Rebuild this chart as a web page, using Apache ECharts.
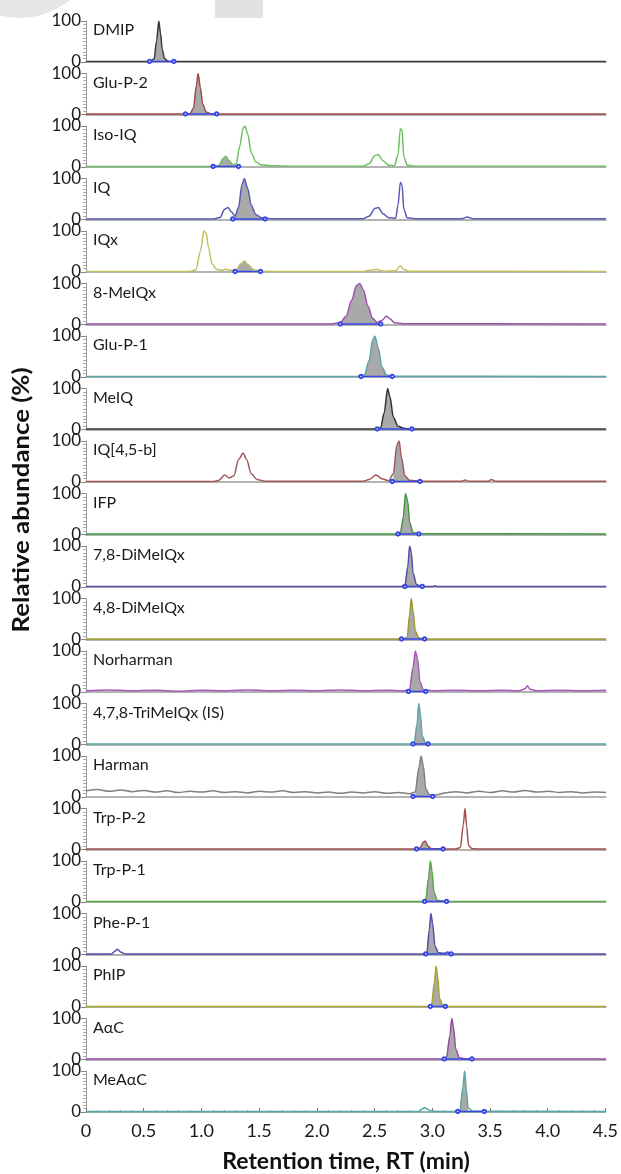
<!DOCTYPE html>
<html>
<head>
<meta charset="utf-8">
<script src="https://cdn.jsdelivr.net/npm/echarts@6/dist/echarts.min.js"></script>
<style>
html,body{margin:0;padding:0;background:#fff;}
#c{width:621px;height:1174px;}
</style>
</head>
<body>
<div id="c"></div>
<script>
// ---------- DATA ----------
const compounds = ["DMIP","Glu-P-2","Iso-IQ","IQ","IQx","8-MeIQx","Glu-P-1","MeIQ","IQ[4,5-b]","IFP","7,8-DiMeIQx","4,8-DiMeIQx","Norharman","4,7,8-TriMeIQx (IS)","Harman","Trp-P-2","Trp-P-1","Phe-P-1","PhIP","A\u03b1C","MeA\u03b1C"];
const xTicks = [0,0.5,1.0,1.5,2.0,2.5,3.0,3.5,4.0,4.5];

const tDMIP = [[0,1],[0.5,1],[0.56,1.5],[0.59,8],[0.61,50],[0.63,100],[0.645,70],[0.66,30],[0.68,8],[0.71,2],[0.75,1],[4.5,1]];
const tGluP2 = [[0,1],[0.85,1],[0.9,2],[0.93,15],[0.955,70],[0.97,100],[0.99,65],[1.01,25],[1.04,6],[1.08,2],[1.15,1],[4.5,1]];
const tIsoIQ = [[0,1],[1.1,1],[1.15,4],[1.19,22],[1.21,26],[1.24,15],[1.27,6],[1.3,8],[1.33,50],[1.36,95],[1.375,100],[1.4,80],[1.43,35],[1.47,12],[1.52,5],[1.6,3],[1.8,2],[2.4,2],[2.45,8],[2.5,28],[2.53,30],[2.57,15],[2.62,4],[2.67,3],[2.7,30],[2.72,93],[2.735,90],[2.75,25],[2.78,4],[2.85,2],[3.5,2],[4.0,2],[4.5,2]];
const tIQ = [[0,1],[1.1,1],[1.16,5],[1.2,25],[1.23,29],[1.26,18],[1.29,8],[1.32,30],[1.35,85],[1.37,100],[1.4,75],[1.43,35],[1.47,12],[1.52,4],[1.6,2],[2.4,2],[2.45,8],[2.5,27],[2.53,29],[2.57,14],[2.62,4],[2.68,3],[2.7,35],[2.72,90],[2.735,85],[2.75,25],[2.78,4],[2.85,2],[3.25,2],[3.3,6],[3.35,2],[4.5,2]];
const tIQx = [[0,1],[0.9,1],[0.95,5],[0.99,50],[1.02,100],[1.04,95],[1.06,60],[1.09,20],[1.13,6],[1.18,4],[1.21,7],[1.25,4],[1.3,5],[1.34,20],[1.37,27],[1.4,18],[1.45,6],[1.52,2],[1.7,1],[2.4,1],[2.47,5],[2.52,6],[2.58,2],[2.68,3],[2.72,15],[2.75,6],[2.8,2],[4.5,1]];
const tMeIQx8 = [[0,1],[2.1,1],[2.2,4],[2.25,20],[2.3,60],[2.34,95],[2.37,100],[2.4,85],[2.44,45],[2.48,15],[2.52,5],[2.56,10],[2.6,20],[2.63,14],[2.67,4],[2.75,2],[4.5,1]];
const tGluP1 = [[0,1],[2.35,1],[2.41,5],[2.45,40],[2.48,90],[2.5,100],[2.53,70],[2.56,25],[2.6,5],[2.65,2],[4.5,1]];
const tMeIQ = [[0,1],[2.5,1],[2.55,4],[2.58,40],[2.61,100],[2.63,80],[2.66,30],[2.7,8],[2.75,3],[2.8,1],[4.5,1]];
const tIQ45b = [[0,1],[1.1,1],[1.15,4],[1.2,17],[1.24,10],[1.28,15],[1.32,55],[1.36,70],[1.39,55],[1.43,20],[1.48,6],[1.55,2],[2.4,2],[2.45,6],[2.51,17],[2.56,8],[2.62,3],[2.66,20],[2.69,90],[2.71,100],[2.73,60],[2.76,15],[2.8,4],[2.9,2],[3.25,2],[3.28,5],[3.31,2],[3.48,2],[3.51,6],[3.54,2],[4.5,2]];
const tIFP = [[0,1],[2.68,1],[2.72,3],[2.745,40],[2.765,100],[2.785,80],[2.8,30],[2.83,5],[2.88,2],[4.5,1]];
const tDiMeIQx78 = [[0,1],[2.72,1],[2.76,4],[2.785,50],[2.8,100],[2.815,85],[2.83,35],[2.86,6],[2.9,2],[3.0,1],[3.02,3],[3.04,1],[4.5,1]];
const tDiMeIQx48 = [[0,1],[2.74,1],[2.78,5],[2.8,60],[2.815,100],[2.83,70],[2.85,20],[2.88,4],[2.92,1],[4.5,1]];
const tNorharman = [[0,3],[0.2,5],[0.4,3],[0.6,4],[0.8,2],[1.0,4],[1.2,3],[1.4,5],[1.6,3],[1.8,4],[2.0,3],[2.2,5],[2.4,3],[2.6,4],[2.75,3],[2.8,6],[2.83,60],[2.85,100],[2.87,80],[2.89,25],[2.92,5],[3.0,3],[3.2,4],[3.4,3],[3.6,4],[3.75,3],[3.8,8],[3.82,15],[3.84,7],[3.9,3],[4.1,4],[4.3,3],[4.5,4]];
const tTriMeIQx = [[0,1],[2.8,1],[2.84,3],[2.865,50],[2.88,100],[2.895,70],[2.91,20],[2.94,3],[3.0,1],[4.5,1]];
const tHarman = [[0,15],[0.1,18],[0.2,14],[0.3,17],[0.4,13],[0.5,16],[0.6,12],[0.7,15],[0.8,11],[0.9,14],[1.0,12],[1.1,15],[1.2,11],[1.3,13],[1.4,10],[1.5,14],[1.6,12],[1.7,15],[1.8,11],[1.9,13],[2.0,10],[2.1,12],[2.2,9],[2.3,12],[2.4,10],[2.5,13],[2.6,9],[2.7,11],[2.8,8],[2.85,12],[2.88,70],[2.9,100],[2.92,75],[2.94,20],[2.97,6],[3.0,4],[3.05,6],[3.1,10],[3.2,13],[3.3,10],[3.4,14],[3.5,11],[3.6,15],[3.7,12],[3.8,16],[3.9,12],[4.0,14],[4.1,11],[4.2,13],[4.3,10],[4.4,12],[4.5,11]];
const tTrpP2 = [[0,1],[2.85,1],[2.89,4],[2.92,18],[2.935,21],[2.96,8],[2.99,2],[3.2,1],[3.24,5],[3.265,60],[3.28,100],[3.295,55],[3.31,10],[3.34,2],[3.5,1],[4.5,1]];
const tTrpP1 = [[0,1],[2.9,1],[2.94,4],[2.965,60],[2.98,100],[2.995,75],[3.01,25],[3.04,4],[3.1,2],[3.15,1],[4.5,1]];
const tPheP1 = [[0,1],[0.22,1],[0.25,8],[0.27,13],[0.3,6],[0.34,1],[2.9,1],[2.95,4],[2.97,60],[2.985,100],[3.0,75],[3.02,20],[3.05,4],[3.1,3],[3.13,6],[3.16,2],[3.25,1],[4.5,1]];
const tPhIP = [[0,1],[2.95,1],[2.99,4],[3.015,60],[3.03,100],[3.045,70],[3.06,20],[3.09,3],[3.15,1],[4.5,1]];
const tAaC = [[0,1],[3.08,1],[3.12,5],[3.15,60],[3.165,100],[3.18,80],[3.2,25],[3.23,4],[3.3,1],[4.5,1]];
const tMeAaC = [[0,1],[2.88,1],[2.91,7],[2.935,11],[2.96,6],[3.0,2],[3.2,1],[3.24,5],[3.265,60],[3.28,100],[3.295,55],[3.31,10],[3.35,2],[4.5,1]];

const traces = [tDMIP,tGluP2,tIsoIQ,tIQ,tIQx,tMeIQx8,tGluP1,tMeIQ,tIQ45b,tIFP,tDiMeIQx78,tDiMeIQx48,tNorharman,tTriMeIQx,tHarman,tTrpP2,tTrpP1,tPheP1,tPhIP,tAaC,tMeAaC];

// integrated (shaded) peak range for each panel, min
const fillRanges = [[0.56,0.72],[0.88,1.12],[1.12,1.3],[1.28,1.55],[1.29,1.51],[2.18,2.54],[2.4,2.63],[2.52,2.8],[2.65,2.85],[2.7,2.86],[2.75,2.9],[2.74,2.92],[2.79,2.94],[2.83,2.95],[2.85,2.98],[2.87,3.0],[2.93,3.06],[2.94,3.07],[2.98,3.1],[3.11,3.26],[3.23,3.34]];
// integration baseline markers, min
const integRanges = [[0.55,0.76],[0.86,1.13],[1.1,1.32],[1.27,1.55],[1.29,1.51],[2.2,2.55],[2.38,2.65],[2.52,2.82],[2.65,2.89],[2.7,2.88],[2.76,2.91],[2.73,2.93],[2.79,2.94],[2.83,2.96],[2.83,3.0],[2.86,3.09],[2.93,3.12],[2.94,3.16],[2.98,3.11],[3.1,3.34],[3.22,3.45]];

// ---------- STYLE ----------
const colors = ["#3a3a3a","#a04a4a","#6cc060","#5a5ab8","#c0c060","#a050b0","#5aa5a5","#333333","#a05858","#3f9a3f","#5050a8","#9a9a30","#a858b8","#58a8a8","#808080","#a05050","#55aa44","#5050a8","#a8a828","#9a48a8","#5aa5a5"];
const FONT = "Lato";
const LEFT = 86, RIGHT = 15, TOP0 = 21, PITCH = 52.5, H = 41;
const N = compounds.length;

const grids = [], xAxes = [], yAxes = [], series = [], graphics = [];
for (let i = 0; i < N; i++) {
  const top = TOP0 + i * PITCH;
  const last = i === N - 1;
  grids.push({left: LEFT, right: RIGHT, top: top, height: H});
  xAxes.push({
    type: 'value', gridIndex: i, min: 0, max: 4.5, interval: 0.5,
    axisLine: {show: true, onZero: false, lineStyle: {color: last ? '#6a9a9a' : '#9a9a9a', width: 1.5}},
    axisTick: {show: last, inside: true, length: 4, lineStyle: {color: '#777'}},
    minorTick: {show: last, splitNumber: 5, length: 2, lineStyle: {color: '#999'}},
    axisLabel: {show: last, fontFamily: FONT, fontSize: 18, color: '#1a1a1a', margin: 10,
      formatter: v => { const t = xTicks.find(k => Math.abs(k - v) < 1e-6); return t === 0 ? '0' : t.toFixed(1); }},
    splitLine: {show: false}
  });
  yAxes.push({
    type: 'value', gridIndex: i, min: 0, max: 100, interval: 100,
    axisLine: {show: true, lineStyle: {color: '#9a9a9a', width: 1}},
    axisTick: {show: true, length: 5, lineStyle: {color: '#888'}},
    minorTick: {show: true, splitNumber: 12, length: 3, lineStyle: {color: '#aaa'}},
    axisLabel: {fontFamily: FONT, fontSize: 17, color: '#1a1a1a', margin: 5},
    splitLine: {show: false}
  });
  const fr = fillRanges[i];
  series.push({
    type: 'line', xAxisIndex: i, yAxisIndex: i, z: 1,
    data: traces[i].filter(p => p[0] >= fr[0] && p[0] <= fr[1]),
    showSymbol: false, smooth: 0.3, smoothMonotone: 'x',
    lineStyle: {width: 0}, areaStyle: {color: '#a9a9a9', opacity: 1}, silent: true
  });
  series.push({
    type: 'line', xAxisIndex: i, yAxisIndex: i, z: 2,
    data: traces[i], showSymbol: false, smooth: 0.3, smoothMonotone: 'x',
    lineStyle: {color: colors[i], width: 1.5}, silent: true
  });
  const ir = integRanges[i];
  series.push({
    type: 'line', xAxisIndex: i, yAxisIndex: i, z: 3,
    data: [[ir[0], 1.5], [ir[1], 1.5]],
    symbol: 'emptyCircle', symbolSize: 3.5,
    itemStyle: {color: '#3646e6', borderWidth: 1},
    lineStyle: {color: '#3646e6', width: 1.5}, silent: true
  });
  graphics.push({
    type: 'text', left: 93, top: top + 1,
    style: {text: compounds[i], font: '16px ' + FONT, fill: '#1a1a1a'}
  });
}

graphics.push({type: 'circle', shape: {cx: 20, cy: -60, r: 78}, style: {fill: '#e6e6e6'}, z: -1});
graphics.push({type: 'rect', shape: {x: 215, y: 0, width: 48, height: 18}, style: {fill: '#e2e2e2'}, z: -1});
graphics.push({
  type: 'text', x: 346, y: 1162,
  style: {text: 'Retention time, RT (min)', font: 'bold 23px ' + FONT, fill: '#111', align: 'center', verticalAlign: 'middle'}
});
graphics.push({
  type: 'text', x: 22, y: 500, rotation: Math.PI / 2, scaleX: 1.12,
  style: {text: 'Relative abundance (%)', font: 'bold 23px ' + FONT, fill: '#111', align: 'center', verticalAlign: 'middle'}
});

const chart = echarts.init(document.getElementById('c'), null, {renderer: 'canvas'});
chart.setOption({
  animation: false,
  backgroundColor: '#fff',
  grid: grids, xAxis: xAxes, yAxis: yAxes, series: series, graphic: graphics
});
</script>
</body>
</html>
